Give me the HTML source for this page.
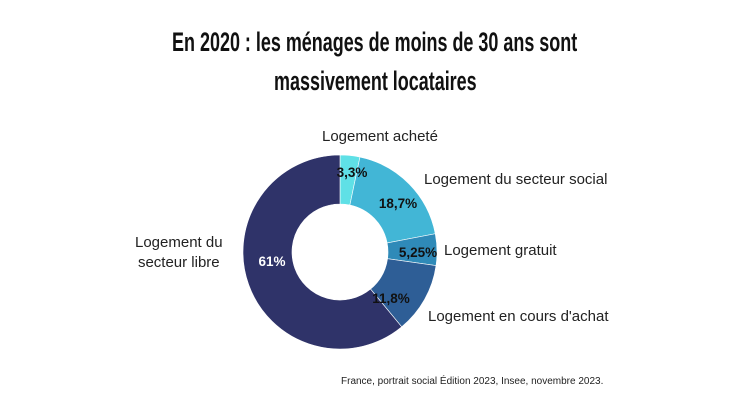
<!DOCTYPE html>
<html><head><meta charset="utf-8"><style>
body{margin:0;width:750px;height:420px;background:#fff;overflow:hidden;font-family:"Liberation Sans",sans-serif;}
.t{position:absolute;left:0;width:750px;text-align:center;font-weight:bold;font-size:27px;color:#111;}
.t span{display:inline-block;transform:scaleX(0.665);white-space:nowrap;}
.l{position:absolute;font-size:15px;color:#222;white-space:nowrap;}
</style></head><body>
<div class="t" style="top:27px"><span>En 2020 : les ménages de moins de 30 ans sont</span></div>
<div class="t" style="top:66px"><span>massivement locataires</span></div>
<svg id="s" width="750" height="420" style="position:absolute;left:0;top:0"></svg>
<div class="l" style="left:322px;top:128px">Logement acheté</div>
<div class="l" style="left:424px;top:171px">Logement du secteur social</div>
<div class="l" style="left:444px;top:242px">Logement gratuit</div>
<div class="l" style="left:428px;top:308px">Logement en cours d'achat</div>
<div class="l" style="left:135px;top:233px;text-align:center;line-height:20px">Logement du<br>secteur libre</div>
<div class="l" style="left:341px;top:376px;font-size:10px">France, portrait social Édition 2023, Insee, novembre 2023.</div>
<script>
var cx=340,cy=252,R=97,r=48,v=[3.3,18.7,5.25,11.8,61],c=["#5fe0e6","#42b6d6","#2f8ab8","#2e5e96","#2f3369"];
var lab=[["3,3%",352,177,"#111"],["18,7%",398,208,"#111"],["5,25%",418,257,"#111"],["11,8%",391,303,"#111"],["61%",272,266,"#fff"]];
var tot=v.reduce((a,b)=>a+b),a=0,h="";
function p(an,rr){return [cx+rr*Math.sin(an),cy-rr*Math.cos(an)];}
v.forEach((x,i)=>{var a2=a+x/tot*2*Math.PI,L=(a2-a>Math.PI)?1:0;
var p1=p(a,R),p2=p(a2,R),p3=p(a2,r),p4=p(a,r);
h+='<path d="M'+p1+' A'+R+','+R+' 0 '+L+' 1 '+p2+' L'+p3+' A'+r+','+r+' 0 '+L+' 0 '+p4+'Z" fill="'+c[i]+'" stroke="#fff" stroke-width="0.6"/>';a=a2;});
lab.forEach(l=>{h+='<text x="'+l[1]+'" y="'+l[2]+'" text-anchor="middle" font-family="Liberation Sans, sans-serif" font-weight="bold" font-size="13.5" fill="'+l[3]+'">'+l[0]+'</text>';});
document.getElementById("s").innerHTML=h;
</script>
</body></html>
